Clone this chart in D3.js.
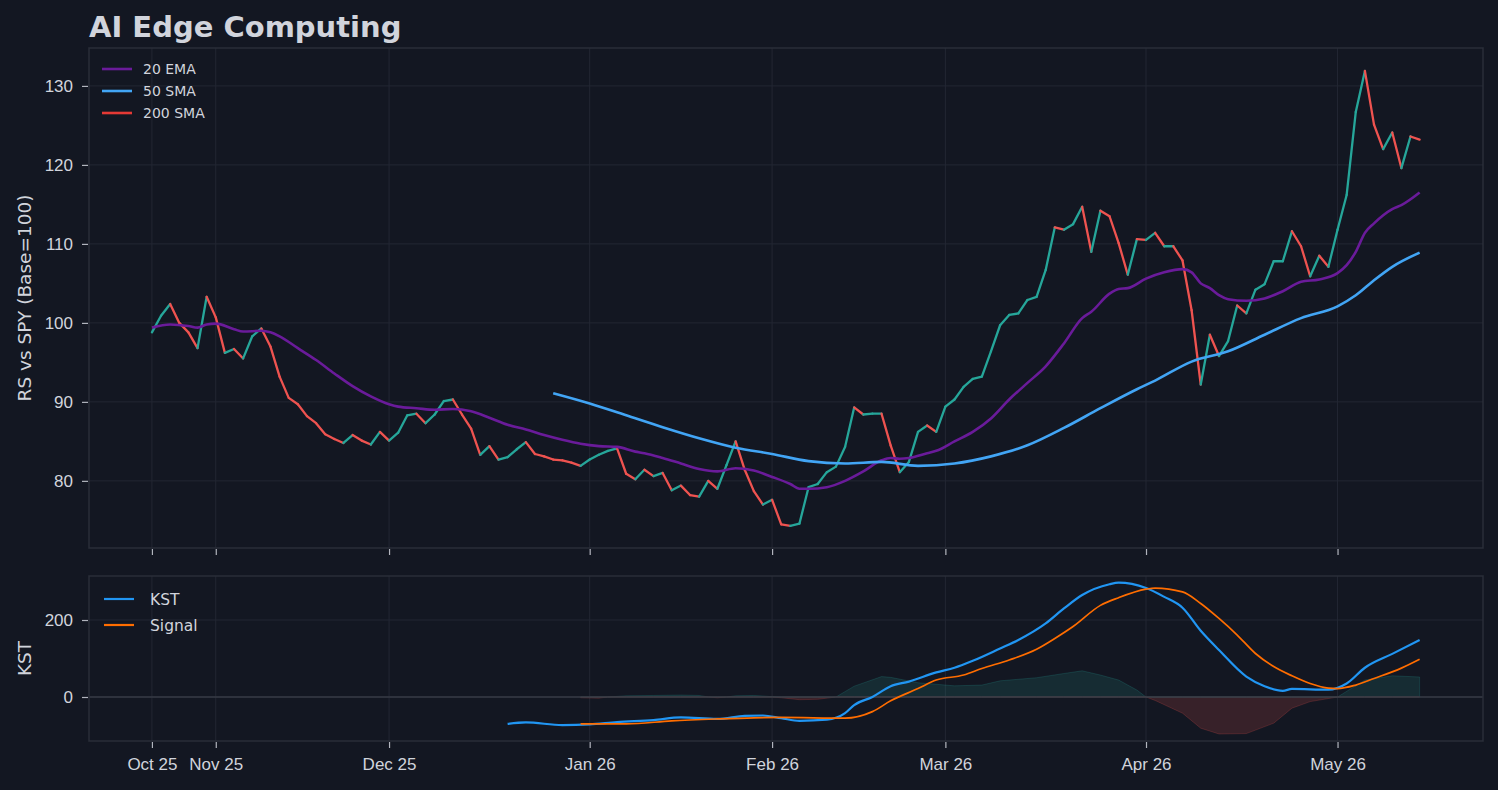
<!DOCTYPE html>
<html>
<head>
<meta charset="utf-8">
<script src="https://cdn.jsdelivr.net/npm/d3@7"></script>
<style>
  html, body { margin: 0; padding: 0; background: #131722; }
  svg { display: block; font-family: "DejaVu Sans", sans-serif; }
  .axis text { fill: #d1d4dc; font-size: 17px; }
  .axis line { stroke: #b2b5be; stroke-width: 1.2; }
  .axis path { display: none; }
</style>
</head>
<body>
<svg id="chart" width="1498" height="790"></svg>
<script>
// trading-day index of each month label
const tickIdx = [0, 7, 26, 48, 68, 87, 109, 130];
const tickLabels = ['Oct 25', 'Nov 25', 'Dec 25', 'Jan 26', 'Feb 26', 'Mar 26', 'Apr 26', 'May 26'];

// RS vs SPY, one value per trading day
const price = [
  98.8, 100.9, 102.4, 100.0, 98.8, 96.8, 103.3, 100.7, 96.2, 96.7,
  95.5, 98.3, 99.3, 97.0, 93.2, 90.5, 89.7, 88.2, 87.3, 85.9,
  85.3, 84.8, 85.8, 85.1, 84.6, 86.2, 85.1, 86.1, 88.3, 88.5,
  87.3, 88.4, 90.1, 90.3, 88.4, 86.6, 83.3, 84.4, 82.7, 83.0,
  84.0, 84.9, 83.4, 83.1, 82.7, 82.6, 82.3, 81.9, 82.7, 83.3,
  83.8, 84.1, 80.9, 80.2, 81.4, 80.6, 81.0, 78.8, 79.4, 78.2,
  78.0, 80.0, 79.0, 82.0, 85.0, 81.4, 78.7, 77.0, 77.6, 74.5,
  74.3, 74.6, 79.2, 79.6, 81.1, 81.8, 84.3, 89.3, 88.4, 88.5,
  88.5, 84.5, 81.1, 82.4, 86.2, 87.0, 86.2, 89.4, 90.3, 91.9,
  92.9, 93.2, 96.4, 99.7, 101.0, 101.2, 102.9, 103.3, 106.7, 112.1,
  111.8, 112.5, 114.7, 109.0, 114.2, 113.5, 110.1, 106.1, 110.6, 110.5,
  111.4, 109.7, 109.7, 107.9, 101.6, 92.2, 98.5, 95.8, 97.7, 102.2,
  101.2, 104.2, 104.9, 107.8, 107.8, 111.6, 109.7, 105.9, 108.5, 107.1,
  111.8, 116.2, 126.7, 131.9, 125.1, 122.0, 124.1, 119.6, 123.6, 123.2
];

// [day index, value]
const ema20 = [
  [0, 99.4], [2, 99.8], [4, 99.6], [5, 99.4], [6, 99.8], [7, 99.9], [9, 99.2], [10, 98.9],
  [12, 99.0], [13, 98.8], [14, 98.3], [16, 96.8], [18, 95.3], [20, 93.6], [22, 92.0], [24, 90.7],
  [26, 89.7], [27, 89.4], [29, 89.2], [31, 89.0], [33, 89.1], [35, 88.8], [37, 88.0], [39, 87.1],
  [41, 86.5], [43, 85.8], [45, 85.2], [47, 84.7], [49, 84.4], [51, 84.3], [53, 83.7], [54, 83.5],
  [56, 82.9], [58, 82.2], [60, 81.5], [62, 81.2], [64, 81.6], [66, 81.3], [68, 80.5], [70, 79.6],
  [71, 79.0], [72, 79.0], [74, 79.2], [76, 80.0], [78, 81.2], [80, 82.6], [81, 82.9], [82, 82.8],
  [83, 82.9], [85, 83.5], [86, 83.8], [88, 85.0], [90, 86.2], [92, 87.9], [94, 90.3], [96, 92.4],
  [98, 94.5], [100, 97.4], [102, 100.6], [103, 101.4], [105, 103.7], [106, 104.3], [107, 104.4],
  [109, 105.6], [111, 106.4], [113, 106.8], [114, 106.4], [115, 105.0], [116, 104.4], [117, 103.5],
  [118, 103.0], [120, 102.8], [122, 103.1], [124, 104.0], [126, 105.2], [128, 105.5], [130, 106.3],
  [131, 107.3], [132, 109.0], [133, 111.4], [134, 112.6], [136, 114.4], [137, 114.9], [139, 116.5]
];

const sma50 = [
  [44, 91.1], [48, 89.8], [52, 88.3], [56, 86.8], [60, 85.4], [64, 84.2], [68, 83.4], [72, 82.5],
  [76, 82.2], [80, 82.4], [84, 81.9], [88, 82.2], [92, 83.1], [96, 84.5], [100, 86.7], [104, 89.2],
  [108, 91.6], [110, 92.7], [114, 95.1], [118, 96.4], [122, 98.5], [126, 100.6], [130, 102.1],
  [132, 103.5], [134, 105.4], [136, 107.1], [139, 108.9]
];

const sma200 = [];

const kst = [
  [39, -70], [41, -66], [45, -73], [48, -71], [51, -65], [55, -60], [58, -53], [62, -57],
  [65, -49], [67, -48], [69, -55], [71, -62], [74, -59], [76, -42], [77, -21], [79, 0],
  [81, 28], [83, 40], [86, 64], [88, 76], [90, 94], [93, 126], [95, 148], [98, 191],
  [100, 230], [102, 265], [105, 293], [106, 297], [109, 283], [111, 260], [113, 232], [115, 172],
  [117, 122], [120, 53], [122, 28], [124, 16], [125, 21], [129, 19], [131, 35], [133, 76],
  [136, 112], [139, 148]
];

const signal = [
  [47, -70], [52, -70], [57, -62], [62, -57], [66, -54], [69, -53], [76, -55], [79, -38],
  [81, -10], [84, 22], [86, 44], [89, 57], [91, 74], [94, 96], [97, 124], [99, 152],
  [101, 183], [104, 238], [106, 258], [109, 280], [110, 283], [113, 273], [115, 243], [117, 204],
  [119, 161], [121, 113], [123, 79], [125, 55], [127, 35], [129, 23], [130, 22], [132, 31],
  [134, 48], [137, 75], [139, 98]
];

const hist = [
  [47, -2], [49, -3], [50, 0], [52, 3], [55, 4], [58, 5], [60, 4], [61, 0], [62, -2], [63, 0],
  [64, 3], [66, 4], [68, 1], [69, -2], [71, -7], [73, -6], [75, 0], [77, 28], [80, 53], [81, 51],
  [84, 37], [88, 29], [91, 31], [93, 42], [97, 50], [100, 61], [102, 68], [104, 57], [106, 44],
  [108, 18], [109, 0], [110, -9], [113, -42], [115, -81], [117, -96], [120, -95], [123, -68],
  [125, -29], [127, -12], [129, -4], [130, 0], [133, 44], [136, 55], [139, 52]
];

const legendMain = [
  {name: '20 EMA', color: '#6a1b9a'},
  {name: '50 SMA', color: '#42a5f5'},
  {name: '200 SMA', color: '#e53935'}
];
const legendKst = [
  {name: 'KST', color: '#2196f3'},
  {name: 'Signal', color: '#ff6d00'}
];

function drawChart() {
  const svg = d3.select('#chart');
  const width = 1498;
  const top = {left: 89, right: 1483, top: 48, bottom: 548};
  const low = {left: 89, right: 1483, top: 576, bottom: 741};

  svg.append('rect').attr('width', width).attr('height', 790).attr('fill', '#131722');

  const x = d3.scaleLinear().domain([-6.9, 145.95]).range([top.left, top.right]);
  const y = d3.scaleLinear().domain([71.5, 134.8]).range([top.bottom, top.top]);
  const yK = d3.scaleLinear().domain([-114.3, 314.3]).range([low.bottom, low.top]);

  const yTicks = [80, 90, 100, 110, 120, 130];
  const kTicks = [0, 200];

  // grid
  const grid = svg.append('g').attr('stroke', '#232733').attr('stroke-width', 1);
  grid.selectAll('line.hy').data(yTicks).join('line')
    .attr('x1', top.left).attr('x2', top.right)
    .attr('y1', d => y(d)).attr('y2', d => y(d));
  grid.selectAll('line.vx').data(tickIdx).join('line')
    .attr('x1', d => x(d)).attr('x2', d => x(d))
    .attr('y1', top.top).attr('y2', top.bottom);
  grid.selectAll('line.ky').data(kTicks).join('line')
    .attr('x1', low.left).attr('x2', low.right)
    .attr('y1', d => yK(d)).attr('y2', d => yK(d));
  grid.selectAll('line.kx').data(tickIdx).join('line')
    .attr('x1', d => x(d)).attr('x2', d => x(d))
    .attr('y1', low.top).attr('y2', low.bottom);

  // axes
  svg.append('g').attr('class', 'axis')
    .attr('transform', `translate(${top.left - 1}, 0)`)
    .call(d3.axisLeft(y).tickValues(yTicks).tickSize(6).tickPadding(9));
  svg.append('g').attr('class', 'axis')
    .attr('transform', `translate(0, ${top.bottom + 1})`)
    .call(d3.axisBottom(x).tickValues(tickIdx).tickSize(6).tickFormat(''));
  svg.append('g').attr('class', 'axis')
    .attr('transform', `translate(${low.left - 1}, 0)`)
    .call(d3.axisLeft(yK).tickValues(kTicks).tickSize(6).tickPadding(9));
  svg.append('g').attr('class', 'axis')
    .attr('transform', `translate(0, ${low.bottom + 1})`)
    .call(d3.axisBottom(x).tickValues(tickIdx).tickSize(6).tickPadding(10)
      .tickFormat((d, i) => tickLabels[i]));

  // main panel lines
  svg.append('clipPath').attr('id', 'clipTop').append('rect')
    .attr('x', top.left).attr('y', top.top)
    .attr('width', top.right - top.left).attr('height', top.bottom - top.top);

  const pLine = d3.line().x(d => x(d[0])).y(d => y(d[1]));
  const smooth = d3.line().x(d => x(d[0])).y(d => y(d[1])).curve(d3.curveMonotoneX);

  const gTop = svg.append('g').attr('clip-path', 'url(#clipTop)');

  const segs = d3.pairs(price.map((v, i) => [i, v]));
  gTop.selectAll('path.seg').data(segs).join('path')
    .attr('class', 'seg')
    .attr('d', d => pLine(d))
    .attr('fill', 'none')
    .attr('stroke', d => d[1][1] >= d[0][1] ? '#26a69a' : '#ef5350')
    .attr('stroke-width', 2.3)
    .attr('stroke-linecap', 'round');

  [[ema20, '#6a1b9a'], [sma50, '#42a5f5'], [sma200, '#e53935']].forEach(([s, c]) => {
    if (!s.length) return;
    gTop.append('path').attr('d', smooth(s))
      .attr('fill', 'none').attr('stroke', c).attr('stroke-width', 2.6);
  });

  // KST panel
  const area = d3.area().x(d => x(d[0])).y0(yK(0));
  svg.append('path')
    .attr('d', area.y1(d => yK(Math.max(0, d[1])))(hist))
    .attr('fill', '#26a69a').attr('fill-opacity', 0.15)
    .attr('stroke', '#26a69a').attr('stroke-opacity', 0.2);
  svg.append('path')
    .attr('d', area.y1(d => yK(Math.min(0, d[1])))(hist))
    .attr('fill', '#ef5350').attr('fill-opacity', 0.17)
    .attr('stroke', '#ef5350').attr('stroke-opacity', 0.2);

  svg.append('line')
    .attr('x1', low.left).attr('x2', low.right)
    .attr('y1', yK(0)).attr('y2', yK(0))
    .attr('stroke', '#363a45').attr('stroke-width', 1.6);

  const kLine = d3.line().x(d => x(d[0])).y(d => yK(d[1])).curve(d3.curveMonotoneX);
  svg.append('path').attr('d', kLine(kst))
    .attr('fill', 'none').attr('stroke', '#2196f3').attr('stroke-width', 2.2);
  svg.append('path').attr('d', kLine(signal))
    .attr('fill', 'none').attr('stroke', '#ff6d00').attr('stroke-width', 1.7);

  // frames
  [top, low].forEach(p => {
    svg.append('rect')
      .attr('x', p.left).attr('y', p.top)
      .attr('width', p.right - p.left).attr('height', p.bottom - p.top)
      .attr('fill', 'none').attr('stroke', '#2a2e39').attr('stroke-width', 1.5);
  });

  // legends
  const lg = svg.append('g');
  legendMain.forEach((d, i) => {
    const ly = 69 + i * 22;
    lg.append('line').attr('x1', 102).attr('x2', 132).attr('y1', ly).attr('y2', ly)
      .attr('stroke', d.color).attr('stroke-width', 2.6);
    lg.append('text').attr('x', 143).attr('y', ly).attr('dy', '0.36em')
      .attr('fill', '#d1d4dc').attr('font-size', 14).text(d.name);
  });
  legendKst.forEach((d, i) => {
    const ly = 599 + i * 26;
    lg.append('line').attr('x1', 104).attr('x2', 134).attr('y1', ly).attr('y2', ly)
      .attr('stroke', d.color).attr('stroke-width', 2.2);
    lg.append('text').attr('x', 150).attr('y', ly).attr('dy', '0.36em')
      .attr('fill', '#d1d4dc').attr('font-size', 15.5).text(d.name);
  });

  // titles
  svg.append('text').attr('x', 89).attr('y', 37)
    .attr('fill', '#d1d4dc').attr('font-size', 29).attr('font-weight', 'bold')
    .text('AI Edge Computing');
  svg.append('text')
    .attr('transform', `translate(31, ${(top.top + top.bottom) / 2}) rotate(-90)`)
    .attr('text-anchor', 'middle').attr('fill', '#d1d4dc').attr('font-size', 18.5)
    .text('RS vs SPY (Base=100)');
  svg.append('text')
    .attr('transform', `translate(31, ${(low.top + low.bottom) / 2}) rotate(-90)`)
    .attr('text-anchor', 'middle').attr('fill', '#d1d4dc').attr('font-size', 18.5)
    .text('KST');
}

drawChart();
</script>
</body>
</html>
